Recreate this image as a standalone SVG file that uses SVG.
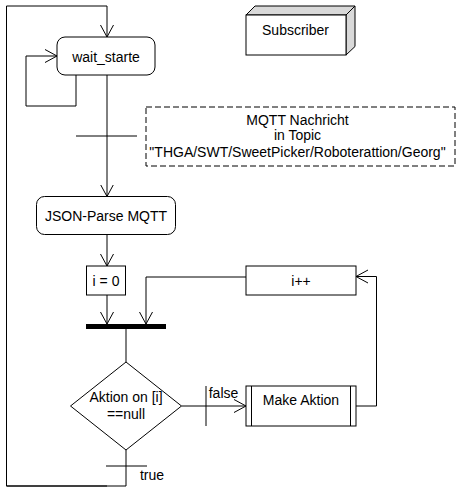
<svg xmlns="http://www.w3.org/2000/svg" width="462" height="494" viewBox="0 0 462 494">
<style>
.s{fill:#fff;stroke:#000;stroke-width:1}
.l{fill:none;stroke:#000;stroke-width:1}
.t{font-family:"Liberation Sans",Arial,sans-serif;font-size:14px;fill:#000;text-anchor:middle}
</style>
<defs>
<marker id="a" markerUnits="userSpaceOnUse" markerWidth="14" markerHeight="16" refX="12" refY="7" orient="auto" viewBox="0 0 14 14">
<path d="M0,0.5 L12,7 L0,13.5" fill="none" stroke="#000" stroke-width="1"/>
</marker>
</defs>
<rect width="462" height="494" fill="#fff"/>
<g id="connectors">
<path class="l" d="M107,486 H6.5 V6 H107 V37" marker-end="url(#a)"/>
<path class="l" d="M126,450 V486 H6.5"/>
<path class="l" d="M76,75 V106 H26 V56 H57" marker-end="url(#a)"/>
<path class="l" d="M107,75 V196.5" marker-end="url(#a)"/>
<line class="l" x1="76" y1="136" x2="137" y2="136"/>
<path class="l" d="M107,234.5 V266" marker-end="url(#a)"/>
<path class="l" d="M107,295 V324" marker-end="url(#a)"/>
<path class="l" d="M246,277 H146 V324" marker-end="url(#a)"/>
<path class="l" d="M126,329 V362"/>
<path class="l" d="M181.5,406 H246" marker-end="url(#a)"/>
<line class="l" x1="206" y1="386" x2="206" y2="426"/>
<path class="l" d="M356,406 H376.5 V276.5 H356" marker-end="url(#a)"/>
<line class="l" x1="106" y1="466" x2="147" y2="466"/>
<text class="t" x="223.5" y="398">false</text>
<text class="t" x="152" y="480">true</text>
</g>
<g id="wait_starte">
<rect class="s" x="57" y="37" width="98" height="38" rx="8"/>
<text class="t" x="106" y="62">wait_starte</text>
</g>
<g id="subscriber">
<path d="M246,15 L255,6 H355 L346,15 Z" fill="#d9d9d9" stroke="#000"/>
<path d="M346,15 L355,6 V46.5 L346,55 Z" fill="#d9d9d9" stroke="#000"/>
<rect class="s" x="246" y="15" width="100" height="40"/>
<text class="t" x="295.5" y="35">Subscriber</text>
</g>
<g id="note">
<rect x="146" y="107" width="309" height="59" fill="#fff" stroke="#000" stroke-dasharray="6,3"/>
<text class="t" x="297.5" y="124.5">MQTT Nachricht</text>
<text class="t" x="297.5" y="139.5">in Topic</text>
<text class="t" x="297.5" y="157">"THGA/SWT/SweetPicker/Roboterattion/Georg"</text>
</g>
<g id="json_parse">
<rect class="s" x="36.5" y="196.5" width="139" height="38" rx="8"/>
<text class="t" x="106" y="221">JSON-Parse MQTT</text>
</g>
<g id="i0">
<rect class="s" x="86.5" y="266" width="39" height="29"/>
<text class="t" x="106" y="285.5">i = 0</text>
</g>
<g id="iplus">
<rect class="s" x="246" y="266" width="110" height="29"/>
<text class="t" x="301" y="285.5">i++</text>
</g>
<g id="join">
<rect x="86" y="324" width="80" height="5" fill="#000"/>
</g>
<g id="decision">
<path class="s" d="M126,362 L181.5,406 L126,450 L70.5,406 Z"/>
<text class="t" x="126" y="401.5">Aktion on [i]</text>
<text class="t" x="126" y="419">==null</text>
</g>
<g id="make_aktion">
<rect class="s" x="246" y="386" width="110" height="40"/>
<line class="l" x1="251.5" y1="386" x2="251.5" y2="426"/>
<line class="l" x1="350.5" y1="386" x2="350.5" y2="426"/>
<text class="t" x="301" y="404.5">Make Aktion</text>
</g>
</svg>
